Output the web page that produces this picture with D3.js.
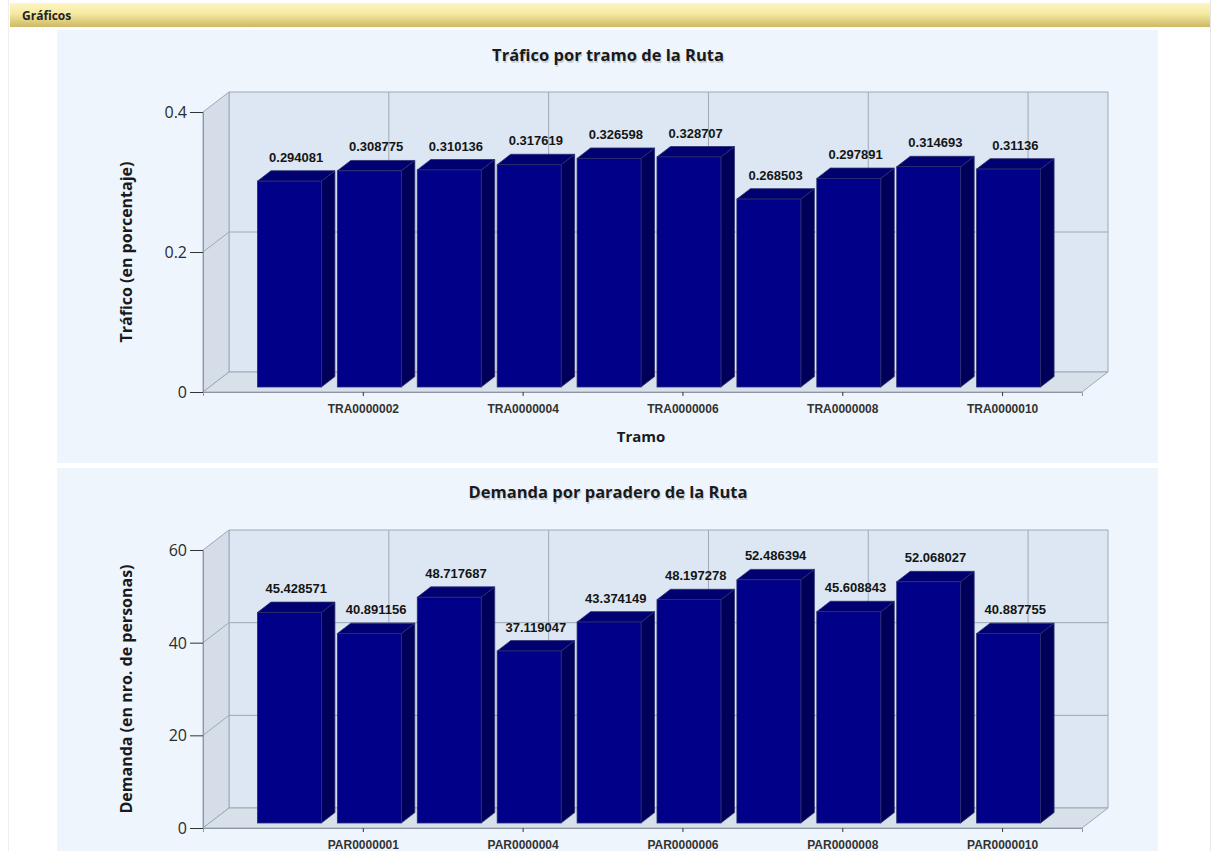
<!DOCTYPE html>
<html>
<head>
<meta charset="utf-8">
<script src="https://cdn.jsdelivr.net/npm/d3@7"></script>
<style>
  html, body { margin: 0; padding: 0; background: #ffffff; }
  svg { display: block; }
</style>
</head>
<body>
<svg id="page" width="1216" height="851"></svg>
<script>
// ---- data ----
const tramoCategories = ["TRA0000001","TRA0000002","TRA0000003","TRA0000004","TRA0000005",
                         "TRA0000006","TRA0000007","TRA0000008","TRA0000009","TRA0000010"];
const tramoValues = [0.294081, 0.308775, 0.310136, 0.317619, 0.326598,
                     0.328707, 0.268503, 0.297891, 0.314693, 0.31136];
const tramoTicks = [0, 0.2, 0.4];

const paraderoCategories = ["PAR0000002","PAR0000001","PAR0000003","PAR0000004","PAR0000005",
                            "PAR0000006","PAR0000007","PAR0000008","PAR0000009","PAR0000010"];
const paraderoValues = [45.428571, 40.891156, 48.717687, 37.119047, 43.374149,
                        48.197278, 52.486394, 45.608843, 52.068027, 40.887755];
const paraderoTicks = [0, 20, 40, 60];

// ---- page frame ----
const svg = d3.select("#page");
const defs = svg.append("defs");
const hdr = defs.append("linearGradient").attr("id", "hdrGrad").attr("x1", 0).attr("y1", 0).attr("x2", 0).attr("y2", 1);
hdr.append("stop").attr("offset", "0%").attr("stop-color", "#fdf6c4");
hdr.append("stop").attr("offset", "45%").attr("stop-color", "#f6e9a0");
hdr.append("stop").attr("offset", "100%").attr("stop-color", "#cdb865");

svg.append("line").attr("x1", 8.5).attr("x2", 8.5).attr("y1", 0).attr("y2", 851).attr("stroke", "#eeeeee");
svg.append("line").attr("x1", 1210.5).attr("x2", 1210.5).attr("y1", 0).attr("y2", 851).attr("stroke", "#e6e6e6");
svg.append("rect").attr("x", 10).attr("y", 3).attr("width", 1200).attr("height", 24).attr("fill", "url(#hdrGrad)");
svg.append("text").attr("x", 22).attr("y", 20)
   .attr("font-family", "'Open Sans', 'DejaVu Sans', sans-serif").attr("font-weight", 700)
   .attr("font-size", 12).attr("fill", "#222").text("Gráficos");

// ---- 3D bar chart ----
const DX = 26, DY = 20;          // depth projection of the whole plot box
const Z0 = 0.25, Z1 = 0.77;      // depth range occupied by the bars

function chart(opt) {
  const g = svg.append("g");
  g.append("rect").attr("x", 57).attr("y", opt.panelTop).attr("width", 1101)
   .attr("height", opt.panelBottom - opt.panelTop).attr("fill", "#eef5fd");

  const n = opt.categories.length;
  const x = d3.scaleLinear().domain([0, n + 1]).range([203, 1082]);
  const y = d3.scaleLinear().domain([0, opt.max]).range([opt.zeroY, opt.topY]);
  const step = x(1) - x(0);
  const bw = step * 0.8;
  const wallStroke = "#9ea8b6";

  const x0 = x(0), x1 = x(n + 1), yb = y(0), yt = y(opt.max);
  const pts = a => a.map(p => p.join(",")).join(" ");

  // walls
  g.append("polygon").attr("points", pts([[x0 + DX, yt - DY], [x1 + DX, yt - DY], [x1 + DX, yb - DY], [x0 + DX, yb - DY]]))
   .attr("fill", "#dce7f3").attr("stroke", wallStroke);
  g.append("polygon").attr("points", pts([[x0, yt], [x0 + DX, yt - DY], [x0 + DX, yb - DY], [x0, yb]]))
   .attr("fill", "#d4dde8").attr("stroke", wallStroke);
  g.append("polygon").attr("points", pts([[x0, yb], [x0 + DX, yb - DY], [x1 + DX, yb - DY], [x1, yb]]))
   .attr("fill", "#d8e0ea").attr("stroke", wallStroke);

  // grid lines
  opt.ticks.filter(t => t > 0 && t < opt.max).forEach(t => {
    g.append("polyline").attr("points", pts([[x0, y(t)], [x0 + DX, y(t) - DY], [x1 + DX, y(t) - DY]]))
     .attr("fill", "none").attr("stroke", wallStroke);
  });
  const labelIdx = d3.range(2, n + 1, 2);
  labelIdx.forEach(i => {
    g.append("line").attr("x1", x(i) + DX).attr("x2", x(i) + DX).attr("y1", yt - DY).attr("y2", yb - DY)
     .attr("stroke", wallStroke);
  });

  // y axis
  const yAxis = d3.axisLeft(y).tickValues(opt.ticks).tickSize(13).tickPadding(3).tickFormat(d3.format(""));
  const ya = g.append("g").attr("transform", `translate(${x0},0)`).call(yAxis);
  ya.select(".domain").attr("stroke", "#8d96a4");
  ya.selectAll(".tick line").attr("stroke", "#333");
  ya.selectAll(".tick text").attr("font-family", "'Open Sans', sans-serif").attr("font-size", 16)
    .attr("fill", "#2a2a2a").attr("dy", "0.34em");

  // x axis
  const xAxis = d3.axisBottom(x).tickValues(labelIdx).tickSize(4).tickPadding(8)
                  .tickFormat(i => opt.categories[i - 1]);
  const xa = g.append("g").attr("transform", `translate(0,${yb})`).call(xAxis);
  xa.select(".domain").attr("stroke", "#8d96a4");
  xa.selectAll(".tick line").attr("stroke", "#333");
  xa.selectAll(".tick text").attr("font-family", "'Liberation Sans', Arial, sans-serif").attr("font-size", 12)
    .attr("font-weight", 700).attr("fill", "#333");

  // bars
  const fx = Z0 * DX, fy = Z0 * DY, ddx = (Z1 - Z0) * DX, ddy = (Z1 - Z0) * DY;
  const bars = g.append("g").selectAll("g").data(opt.values).join("g");
  bars.each(function (v, i) {
    const b = d3.select(this);
    const left = x(i + 1) - bw / 2 + fx, right = left + bw;
    const top = y(v) - fy, bot = yb - fy;
    const edge = "#2b2f6e";
    b.append("polygon").attr("points", pts([[right, top], [right + ddx, top - ddy], [right + ddx, bot - ddy], [right, bot]]))
     .attr("fill", "#00005a").attr("stroke", edge).attr("stroke-width", 0.8);
    b.append("polygon").attr("points", pts([[left, top], [left + ddx, top - ddy], [right + ddx, top - ddy], [right, top]]))
     .attr("fill", "#000070").attr("stroke", edge).attr("stroke-width", 0.8);
    b.append("rect").attr("x", left).attr("y", top).attr("width", bw).attr("height", bot - top)
     .attr("fill", "#000088").attr("stroke", edge).attr("stroke-width", 0.8);
    b.append("text").attr("x", (left + right) / 2 + ddx / 2).attr("y", top - ddy - 9)
     .attr("text-anchor", "middle").attr("font-family", "'Liberation Sans', Arial, sans-serif")
     .attr("font-weight", 700).attr("font-size", 13).attr("fill", "#151515").text(v);
  });

  // titles
  const tx = 608;
  g.append("text").attr("x", tx + 1).attr("y", opt.titleY + 2).attr("text-anchor", "middle")
   .attr("font-family", "'Open Sans', sans-serif").attr("font-weight", 700).attr("font-size", 16.5)
   .attr("fill", "#000").attr("opacity", 0.15).text(opt.title);
  g.append("text").attr("x", tx).attr("y", opt.titleY).attr("text-anchor", "middle")
   .attr("font-family", "'Open Sans', sans-serif").attr("font-weight", 700).attr("font-size", 16.5)
   .attr("fill", "#1a1a1a").text(opt.title);

  g.append("text").attr("transform", `translate(132,${(yb + yt) / 2}) rotate(-90)`).attr("text-anchor", "middle")
   .attr("font-family", "'Open Sans', sans-serif").attr("font-weight", 700).attr("font-size", 16)
   .attr("fill", "#1a1a1a").text(opt.yTitle);

  if (opt.xTitle) {
    g.append("text").attr("x", 641).attr("y", opt.xTitleY).attr("text-anchor", "middle")
     .attr("font-family", "'Open Sans', sans-serif").attr("font-weight", 700).attr("font-size", 15)
     .attr("fill", "#1a1a1a").text(opt.xTitle);
  }
}

chart({
  panelTop: 30, panelBottom: 463,
  categories: tramoCategories, values: tramoValues, ticks: tramoTicks, max: 0.4,
  zeroY: 392, topY: 112,
  title: "Tráfico por tramo de la Ruta", titleY: 61,
  yTitle: "Tráfico (en porcentaje)",
  xTitle: "Tramo", xTitleY: 442
});

chart({
  panelTop: 468, panelBottom: 851,
  categories: paraderoCategories, values: paraderoValues, ticks: paraderoTicks, max: 60,
  zeroY: 828, topY: 550,
  title: "Demanda por paradero de la Ruta", titleY: 498,
  yTitle: "Demanda (en nro. de personas)"
});
</script>
</body>
</html>
